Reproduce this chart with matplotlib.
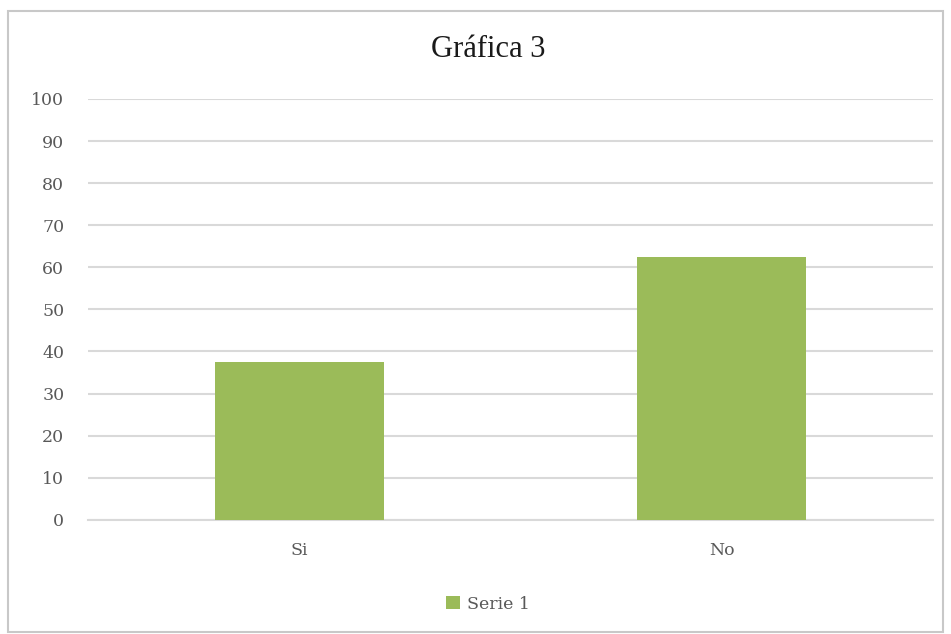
import matplotlib.pyplot as plt
from matplotlib.patches import Rectangle

categorias = ['Si', 'No']
serie_1 = [37.5, 62.5]
y_ticks = list(range(0, 101, 10))

verde = '#9bbb59'
gris = '#d9d9d9'

fig = plt.figure(figsize=(9.51, 6.34), dpi=100)
ax = fig.add_axes([0.0925, 0.18, 0.8885, 0.664])

x = range(len(categorias))
ax.bar(x, serie_1, width=0.4, color=verde, label='Serie 1', zorder=3)

ax.set_xlim(-0.5, 1.5)
ax.set_ylim(0, 100)
ax.set_yticks(y_ticks)
ax.set_xticks(list(x))
ax.set_xticklabels(categorias)
ax.yaxis.grid(True, color=gris, linewidth=1.5, zorder=0)
ax.set_axisbelow(True)
for s in ['top', 'right', 'left']:
    ax.spines[s].set_visible(False)
ax.spines['bottom'].set_color(gris)
ax.spines['bottom'].set_linewidth(1.5)
ax.tick_params(axis='both', length=0, labelsize=12.5, labelcolor='#595959')
ax.tick_params(axis='y', pad=17)
ax.tick_params(axis='x', pad=16)
for lab in ax.get_xticklabels() + ax.get_yticklabels():
    lab.set_fontfamily('DejaVu Serif')

fig.text(0.513, 0.922, 'Gráfica 3', ha='center', va='center',
         fontsize=22, family='Liberation Serif', color='#1a1a1a')

leg = fig.legend(loc='center', bbox_to_anchor=(0.513, 0.047), frameon=False,
                 handlelength=0.8, handleheight=0.8, handletextpad=0.4,
                 prop={'family': 'DejaVu Serif', 'size': 12.5})
for t in leg.get_texts():
    t.set_color('#595959')

# borde exterior del grafico
fig.patches.append(Rectangle((0.008, 0.003), 0.984, 0.98, transform=fig.transFigure,
                             fill=False, edgecolor='#c8c8c8', linewidth=1.5))

fig.savefig('out.png', dpi=100)
